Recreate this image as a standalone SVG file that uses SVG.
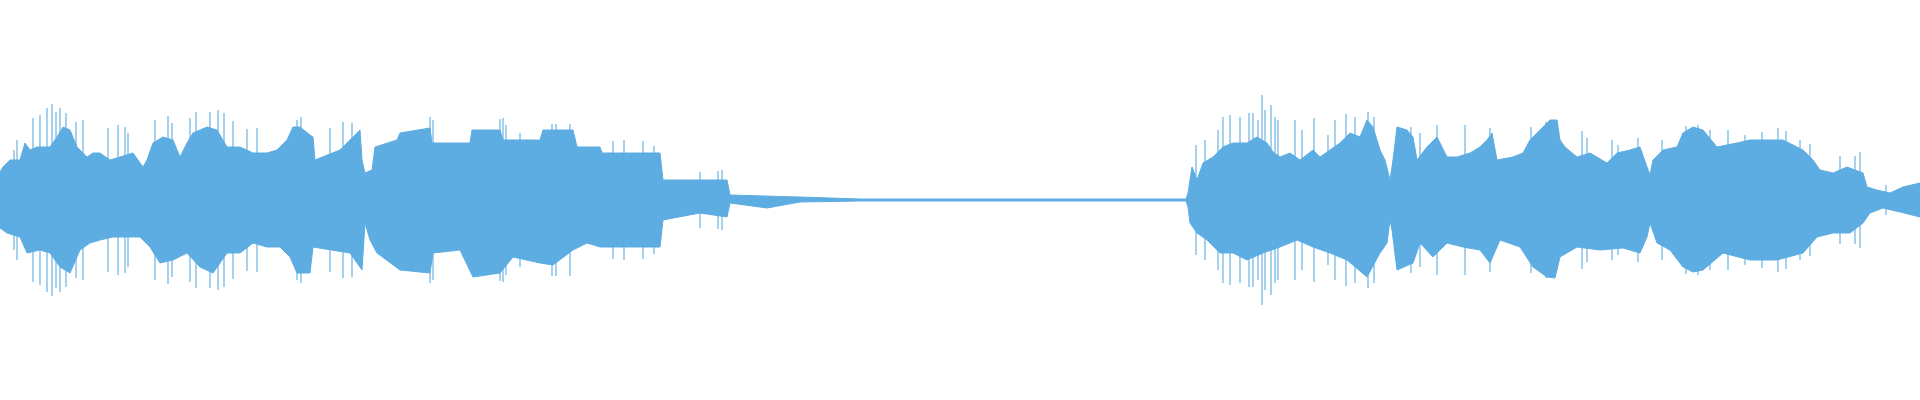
<svg xmlns="http://www.w3.org/2000/svg" width="1920" height="400" viewBox="0 0 1920 400">
<style>.w{fill:#5dade2;stroke:#5dade2;stroke-width:1;stroke-linejoin:bevel}.s{fill:none;stroke:#5dade2;stroke-width:1.1}</style>
<defs>
<path id="sp" d="M14,200V150M17,200V140M33,200V118M40,200V115M47,200V108M52,200V104M56,200V112M60,200V108M66,200V113M76,200V122M83,200V120M108,200V128M118,200V125M125,200V127M128,200V133M155,200V120M168,200V116M172,200V123M190,200V118M196,200V112M210,200V112M218,200V110M224,200V113M233,200V121M247,200V129M257,200V128M297,200V120M301,200V117M330,200V128M343,200V122M352,200V123M430,200V117M433,200V120M480,200V137M500,200V119M503,200V118M506,200V125M520,200V133M552,200V124M556,200V124M570,200V124M613,200V141M624,200V140M643,200V141M654,200V146M700,200V172M718,200V171M722,200V170M1196,200V145M1205,200V140M1218,200V130M1223,200V117M1230,200V115M1240,200V117M1249,200V113M1253,200V113M1258,200V120M1262,200V95M1265,200V110M1271,200V105M1275,200V117M1278,200V120M1295,200V120M1302,200V130M1314,200V118M1328,200V135M1335,200V120M1346,200V114M1355,200V117M1368,200V112M1374,200V117M1411,200V127M1420,200V133M1437,200V125M1465,200V125M1490,200V128M1531,200V127M1546,200V122M1582,200V131M1587,200V138M1612,200V140M1618,200V145M1638,200V138M1662,200V140M1686,200V126M1698,200V125M1710,200V130M1728,200V130M1745,200V135M1762,200V132M1778,200V128M1786,200V131M1800,200V140M1810,200V144M1840,200V156M1855,200V156M1860,200V152M1886,200V185"/>
</defs>
<rect width="1920" height="400" fill="#fff"/>
<g id="waveform">
<path class="w" d="M0,172 3,167 10,160 20,160 25,143 30,150 37,147 50,147 57,137 63,127 70,130 77,147 87,157 93,153 100,153 110,160 120,157 133,153 143,167 147,160 153,143 163,137 173,140 180,157 187,143 193,133 207,127 217,130 227,147 240,147 253,153 267,153 277,150 287,140 293,127 300,127 310,135 313,137 315,160 340,150 360,130 362,160 365,173 372,170 375,147 397,140 400,133 430,128 432,143 470,143 472,130 500,130 503,140 540,140 543,130 573,130 577,147 600,147 602,153 660,153 663,180 727,180 730,195 800,197 860,199 1186,199 1188,193 1192,167 1197,180 1203,163 1213,157 1223,147 1233,143 1247,143 1257,137 1267,143 1273,152 1280,157 1290,153 1300,160 1313,150 1320,157 1330,150 1340,143 1350,133 1360,137 1367,120 1373,127 1380,150 1385,160 1390,180 1393,160 1397,127 1407,130 1413,137 1417,160 1427,147 1437,137 1447,157 1457,157 1470,153 1480,147 1487,140 1492,133 1497,160 1513,157 1523,153 1530,140 1540,130 1550,120 1557,120 1560,140 1565,147 1577,157 1590,153 1607,163 1617,153 1630,150 1640,147 1647,167 1650,175 1653,160 1663,150 1677,147 1683,133 1693,127 1703,130 1717,147 1737,143 1750,140 1783,140 1803,150 1813,160 1820,170 1833,173 1847,167 1863,173 1867,187 1877,190 1890,193 1903,187 1920,183 L1920,217 1900,212 1883,208 1870,213 1863,223 1850,233 1833,233 1817,237 1803,253 1777,260 1750,260 1723,253 1703,270 1693,272 1683,267 1670,250 1657,243 1650,223 1647,237 1640,253 1623,248 1600,250 1577,247 1560,257 1555,278 1547,277 1533,267 1520,247 1500,240 1490,263 1480,250 1463,247 1447,243 1433,257 1420,243 1413,263 1397,270 1392,230 1390,220 1387,243 1380,253 1367,277 1347,260 1330,253 1313,247 1297,240 1280,247 1263,253 1247,260 1233,253 1220,253 1207,240 1197,233 1190,223 1188,207 1186,201 860,201 800,202 767,208 730,203 727,217 700,213 663,220 660,247 600,247 587,243 573,250 553,265 540,263 513,257 500,273 473,277 460,250 433,253 430,273 400,270 377,253 370,240 365,223 362,270 350,253 313,247 310,273 297,273 290,257 280,247 267,247 253,243 240,253 227,253 213,273 200,267 187,253 173,260 160,263 150,247 140,237 127,237 113,237 100,240 90,243 80,250 70,273 60,267 50,253 40,250 27,253 20,237 7,233 0,228 Z"/>
<use href="#sp" class="s"/>
<use href="#sp" class="s" transform="translate(0,400) scale(1,-1)"/>
</g>
</svg>
